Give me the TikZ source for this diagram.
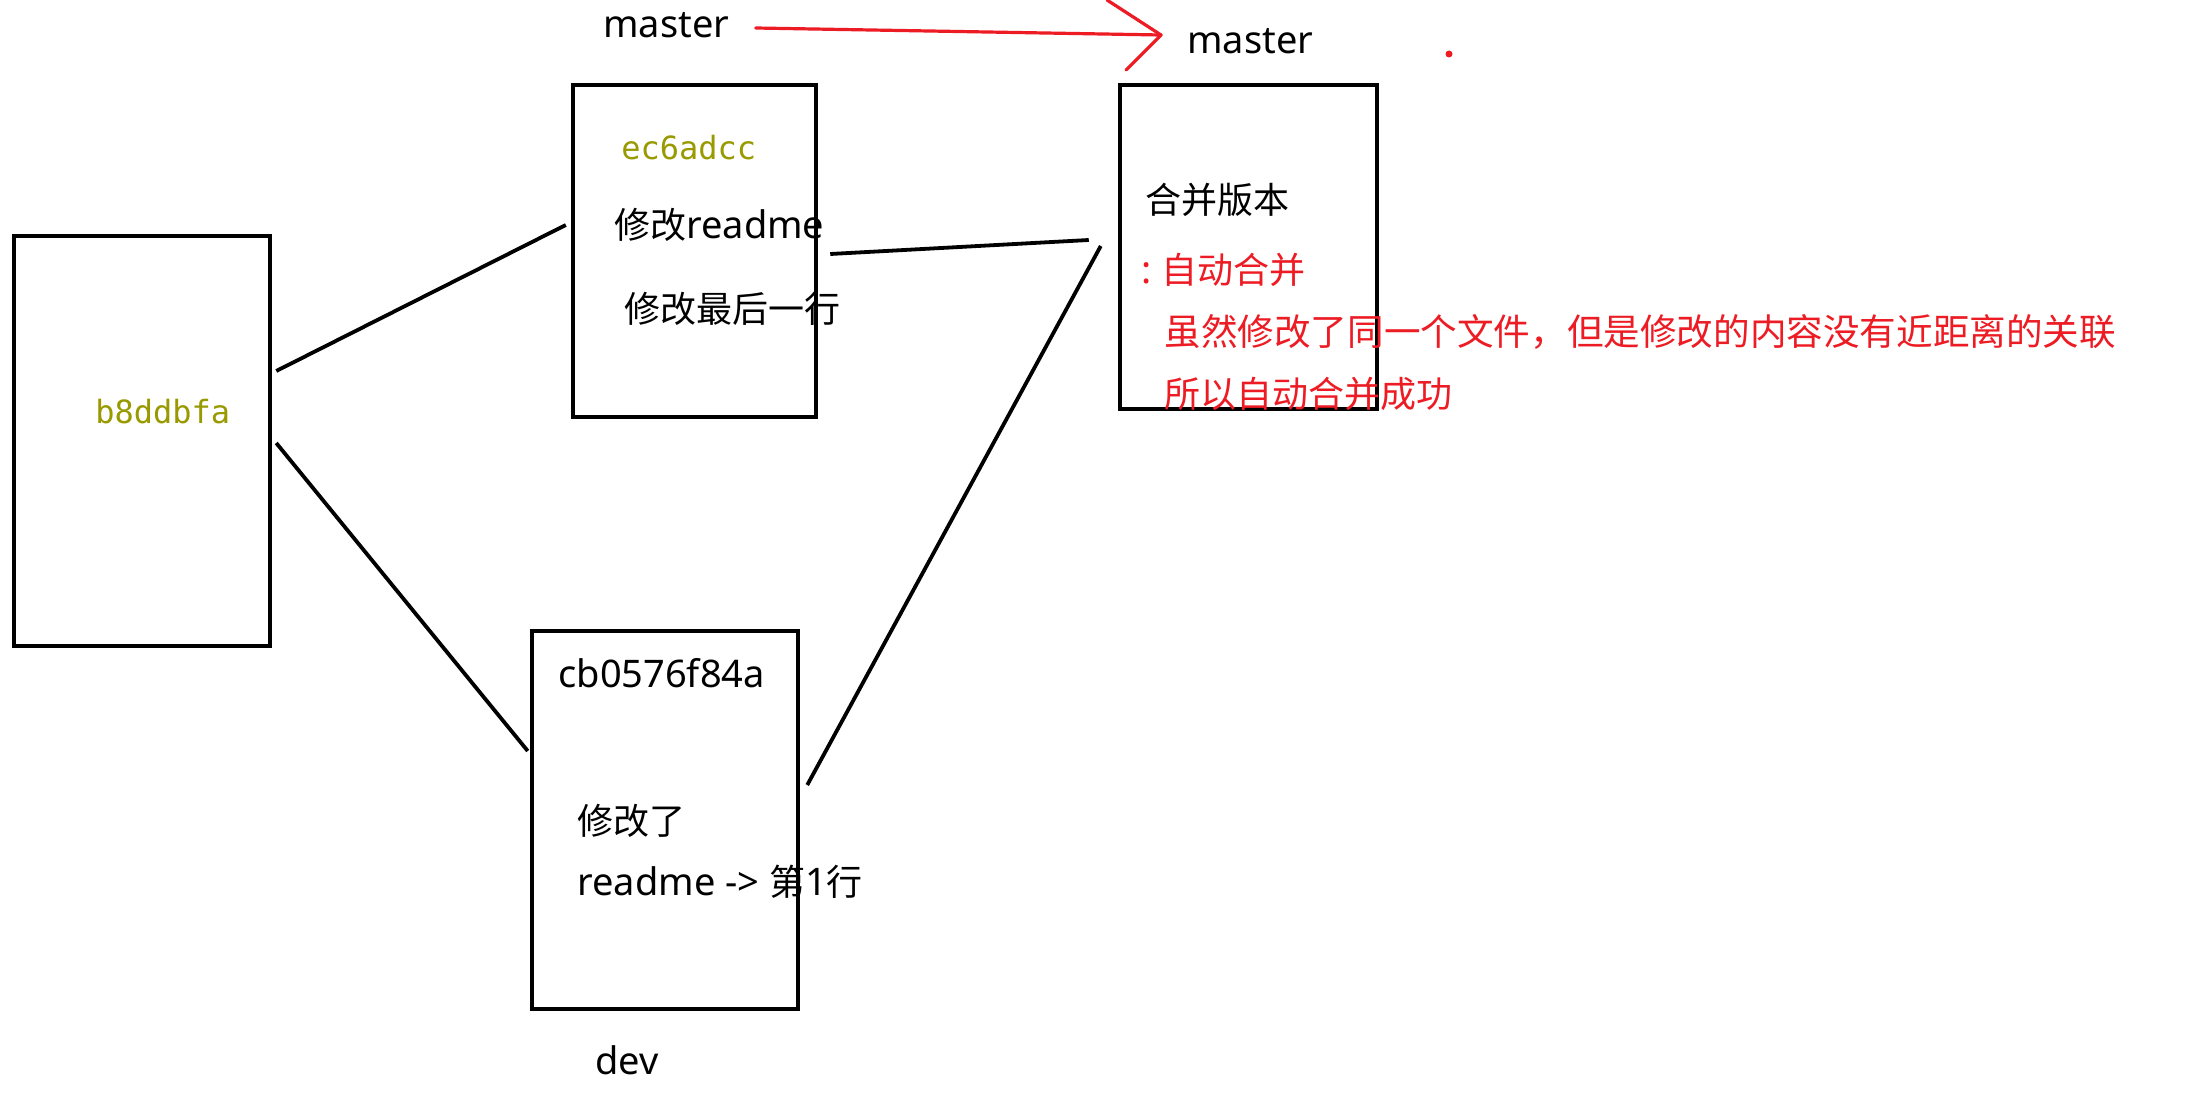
\documentclass[tikz,border=0pt]{standalone}
\usepackage{fontspec}
\setmainfont{Noto Sans CJK SC}
\newfontfamily\latf{Noto Sans}
\newcommand\lat{\latf\fontsize{19pt}{20pt}\selectfont}
\newfontfamily\hashfont{DejaVu Sans Mono}
\usetikzlibrary{calc}
\definecolor{mred}{RGB}{237,28,36}
\definecolor{olivehash}{RGB}{153,153,0}
\begin{document}
\begin{tikzpicture}[x=0.5pt,y=-0.5pt,
  commitbox/.style={draw, line width=2.25pt, inner sep=0pt},
  conn/.style={line width=1.9pt},
  redline/.style={draw=mred, line width=1.6pt, line cap=round, line join=round},
  lbl/.style={anchor=west, inner sep=0pt, font=\fontsize{18pt}{20pt}\selectfont},
  hash/.style={anchor=west, inner sep=0pt, font=\hashfont\fontsize{16pt}{18pt}\selectfont, text=olivehash},
  note/.style={lbl, text=mred}]
\useasboundingbox (0,0) rectangle (2194,1102);
\fill[white] (0,0) rectangle (2194,1102);

% commit boxes
\node[commitbox, minimum width=128pt, minimum height=205pt] (A) at (142,441) {};
\node[commitbox, minimum width=121.5pt, minimum height=166pt] (B) at (694.5,251) {};
\node[commitbox, minimum width=133pt, minimum height=189pt] (C) at (665,820) {};
\node[commitbox, minimum width=128.5pt, minimum height=162pt] (D) at (1248.5,247) {};

% connectors
\draw[conn] ([shift={(4,-70)}]A.east) -- ([shift={(-5,-26)}]B.west);
\draw[conn] ([shift={(4,2)}]A.east) -- ([shift={(-2,-69)}]C.west);
\draw[conn] ([shift={(12,3)}]B.east) -- ([shift={(-29,-7)}]D.west);
\draw[conn] ([shift={(7,-35)}]C.east) -- ([shift={(-17,-1)}]D.west);

% labels
\node[lbl] (m1) at (603,25) {\lat master};
\node[lbl] (m2) at (1187,41) {\lat master};
\node[hash] (hB) at (621,148) {ec6adcc};
\node[lbl] (tB1) at (614,225) {修改{\lat readme}};
\node[lbl] (tB2) at (624,309) {修改最后一行};
\node[hash] (hA) at (95,412) {b8ddbfa};
\node[lbl] (tD1) at (1145,200) {合并版本};
\node[note] (tD2) at (1141,270) {{\lat :}\hspace{5pt}自动合并};
\node[note, font=\fontsize{18.3pt}{20pt}\selectfont] (tD3) at (1164,332) {虽然修改了同一个文件，但是修改的内容没有近距离的关联};
\node[note] (tD4) at (1164,394) {所以自动合并成功};
\node[lbl] (hC) at (558,673) {\lat cb0576f84a};
\node[lbl] (tC1) at (577,821) {修改了};
\node[lbl] (tC2) at (577,882) {{\lat readme -{}> }第{\lat 1}行};
\node[lbl] (dev) at (595,1060) {\lat dev};

% red arrow master -> master
\coordinate (tip) at ([shift={(-26,-6)}]m2.west);
\draw[redline] ([shift={(26,3)}]m1.east) -- (tip);
\draw[redline] ($(tip)+(-54,-35)$) -- (tip) -- ($(tip)+(-35,35)$);
\node[circle, fill=mred, inner sep=0pt, minimum size=3.5pt] (dot) at (1449,54) {};
\end{tikzpicture}
\end{document}
